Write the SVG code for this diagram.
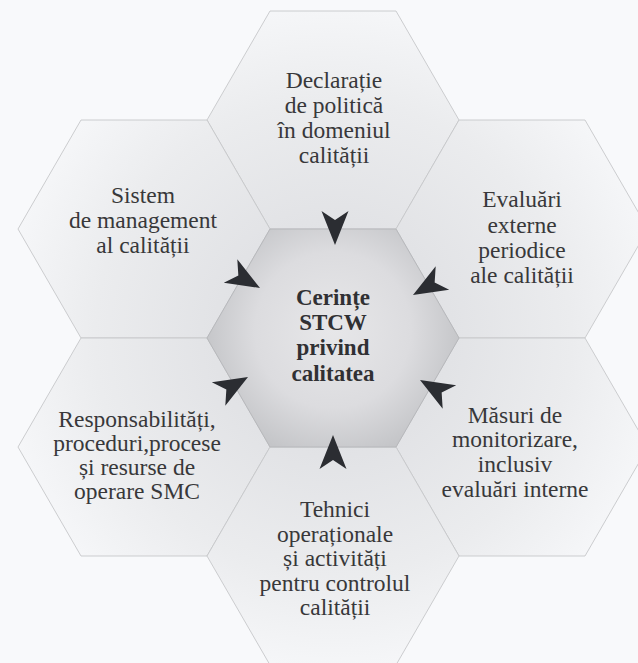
<svg xmlns="http://www.w3.org/2000/svg" xmlns:xlink="http://www.w3.org/1999/xlink" width="638" height="663" viewBox="0 0 638 663">
  <style>
    .hex { stroke: #c6c7ca; stroke-width: 0.9; stroke-linejoin: round; }
    .outer { fill: url(#gOuter); }
    .core { fill: url(#gCore); stroke: #b4b5b9; }
    .lbl { font-family: "Liberation Serif", "Times New Roman", serif; font-size: 23.5px; fill: #38383a; text-anchor: middle; }
    .main { font-family: "Liberation Serif", "Times New Roman", serif; font-size: 23px; font-weight: bold; fill: #303033; text-anchor: middle; }
    .arrow { fill: #2b2d32; }
  </style>
  <defs>
    <radialGradient id="gOuter" gradientUnits="userSpaceOnUse" cx="333" cy="338" r="340">
      <stop offset="0" stop-color="#dadbde"/>
      <stop offset="0.35" stop-color="#e2e3e6"/>
      <stop offset="0.7" stop-color="#ebecee"/>
      <stop offset="1" stop-color="#f6f7f9"/>
    </radialGradient>
    <radialGradient id="gCore" gradientUnits="userSpaceOnUse" cx="333" cy="330" r="130">
      <stop offset="0" stop-color="#e7e7e9"/>
      <stop offset="0.6" stop-color="#dcdcdf"/>
      <stop offset="1" stop-color="#c4c5c8"/>
    </radialGradient>
    <path id="ah" d="M0,0 L-34,-13.5 L-25,0 L-34,13.5 Z"/>
  </defs>

  <rect x="0" y="0" width="638" height="663" fill="#f8f9fb"/>

  <g id="node-top">
    <polygon class="hex outer" points="459,120 396,11 270,11 207,120 270,229 396,229"/>
    <text class="lbl" x="334" y="88">Declarație</text>
    <text class="lbl" x="334" y="113">de politică</text>
    <text class="lbl" x="334" y="138">în domeniul</text>
    <text class="lbl" x="334" y="163">calității</text>
  </g>

  <g id="node-upper-left">
    <polygon class="hex outer" points="270,229 207,120 81,120 18,229 81,338 207,338"/>
    <text class="lbl" x="143" y="203">Sistem</text>
    <text class="lbl" x="143" y="228">de management</text>
    <text class="lbl" x="143" y="253">al calității</text>
  </g>

  <g id="node-upper-right">
    <polygon class="hex outer" points="648,229 585,120 459,120 396,229 459,338 585,338"/>
    <text class="lbl" x="522" y="207">Evaluări</text>
    <text class="lbl" x="522" y="233">externe</text>
    <text class="lbl" x="522" y="258">periodice</text>
    <text class="lbl" x="522" y="283">ale calității</text>
  </g>

  <g id="node-lower-left">
    <polygon class="hex outer" points="270,447 207,338 81,338 18,447 81,556 207,556"/>
    <text class="lbl" x="137" y="427">Responsabilități,</text>
    <text class="lbl" x="137" y="451">proceduri,procese</text>
    <text class="lbl" x="137" y="475">și resurse de</text>
    <text class="lbl" x="137" y="499">operare SMC</text>
  </g>

  <g id="node-lower-right">
    <polygon class="hex outer" points="648,447 585,338 459,338 396,447 459,556 585,556"/>
    <text class="lbl" x="515" y="423">Măsuri de</text>
    <text class="lbl" x="515" y="447">monitorizare,</text>
    <text class="lbl" x="515" y="472">inclusiv</text>
    <text class="lbl" x="515" y="497">evaluări interne</text>
  </g>

  <g id="node-bottom">
    <polygon class="hex outer" points="459,556 396,447 270,447 207,556 270,665 396,665"/>
    <text class="lbl" x="335" y="517">Tehnici</text>
    <text class="lbl" x="335" y="541.5">operaționale</text>
    <text class="lbl" x="335" y="566">și activități</text>
    <text class="lbl" x="335" y="590.5">pentru controlul</text>
    <text class="lbl" x="335" y="615">calității</text>
  </g>

  <g id="node-center">
    <polygon class="hex core" points="459,338 396,229 270,229 207,338 270,447 396,447"/>
    <text class="main" x="333" y="305">Cerințe</text>
    <text class="main" x="333" y="330">STCW</text>
    <text class="main" x="333" y="355">privind</text>
    <text class="main" x="333" y="381">calitatea</text>
  </g>

  <g id="connectors">
    <use class="arrow" xlink:href="#ah" href="#ah" transform="translate(335,245) rotate(90)"/>
    <use class="arrow" xlink:href="#ah" href="#ah" transform="translate(260,288) rotate(30)"/>
    <use class="arrow" xlink:href="#ah" href="#ah" transform="translate(413,295) rotate(150)"/>
    <use class="arrow" xlink:href="#ah" href="#ah" transform="translate(248,377) rotate(-30)"/>
    <use class="arrow" xlink:href="#ah" href="#ah" transform="translate(420,380) rotate(210)"/>
    <use class="arrow" xlink:href="#ah" href="#ah" transform="translate(333,435) rotate(-90)"/>
  </g>
</svg>
